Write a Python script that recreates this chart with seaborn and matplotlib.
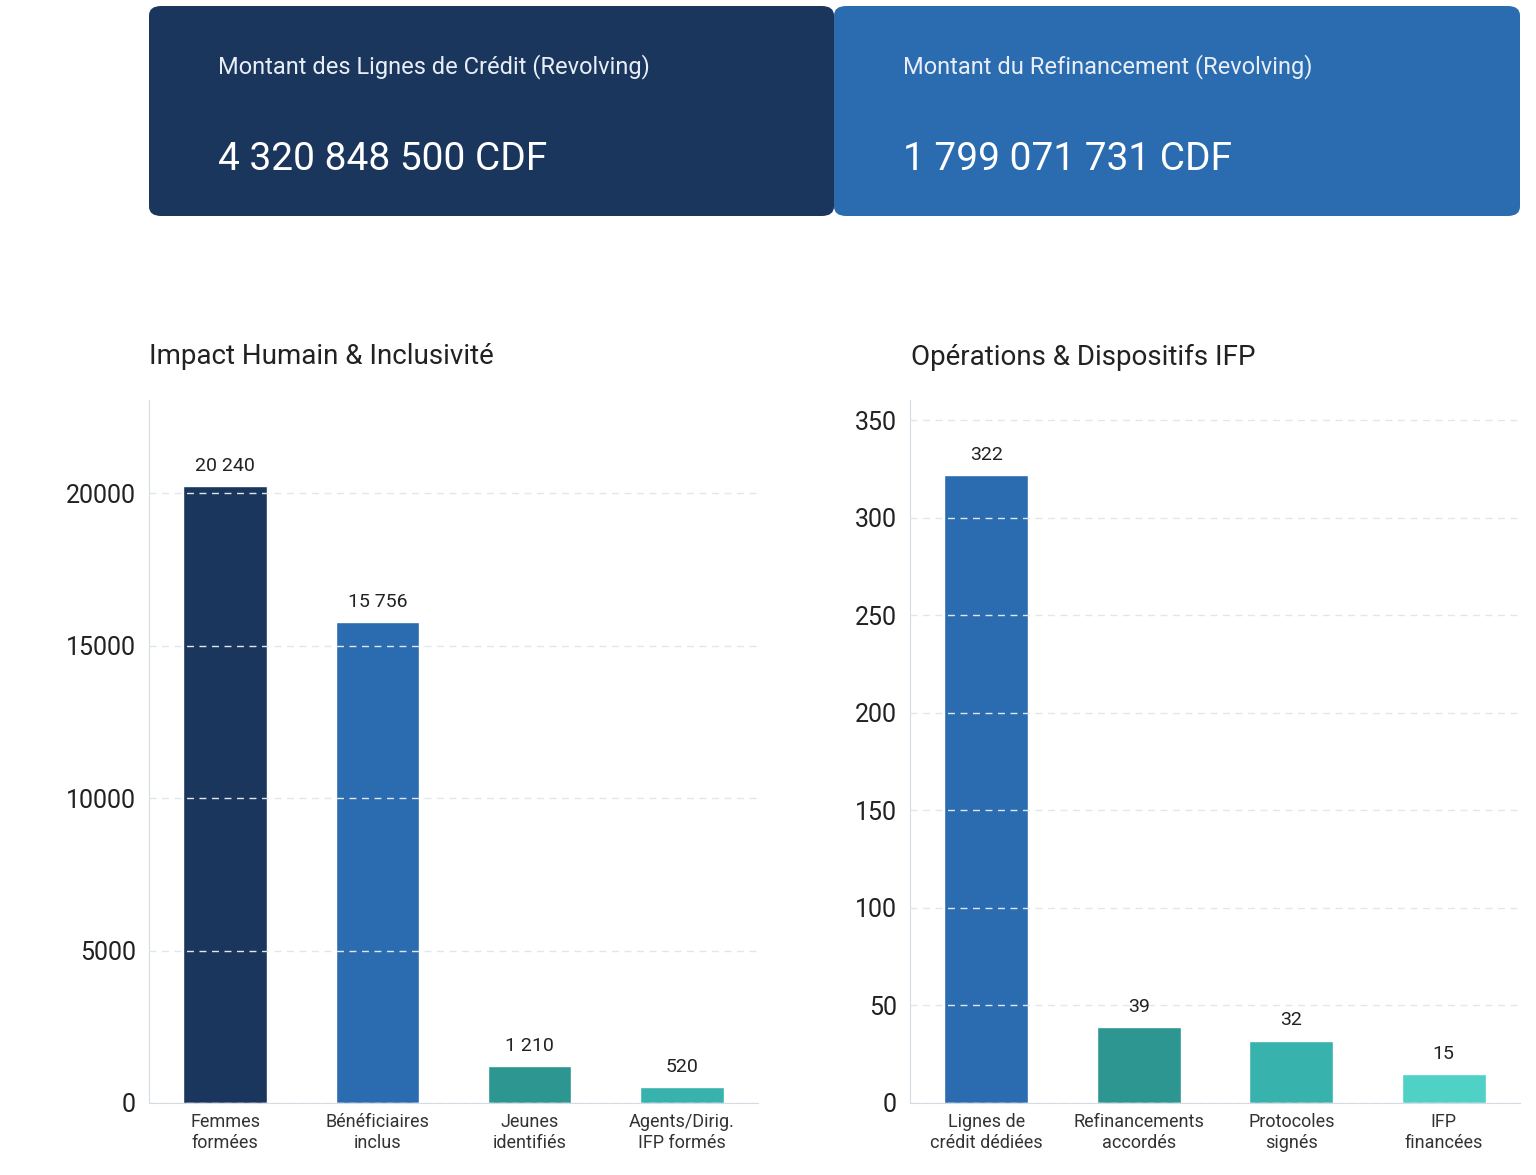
import matplotlib
matplotlib.use("Agg")
import matplotlib.pyplot as plt
import seaborn as sns
import pandas as pd
from matplotlib.patches import FancyBboxPatch

sns.set_style("white")
plt.rcParams["font.family"] = ["Roboto", "DejaVu Sans"]

# data
card_titles = ["Montant des Lignes de Crédit (Revolving)", "Montant du Refinancement (Revolving)"]
card_values = ["4 320 848 500 CDF", "1 799 071 731 CDF"]
card_colors = ["#1B365D", "#2B6CB0"]

human_labels = ["Femmes\nformées", "Bénéficiaires\ninclus", "Jeunes\nidentifiés", "Agents/Dirig.\nIFP formés"]
human_values = [20240, 15756, 1210, 520]
human_colors = ["#1B365D", "#2B6CB0", "#2E9690", "#38B2AC"]

ops_labels = ["Lignes de\ncrédit dédiées", "Refinancements\naccordés", "Protocoles\nsignés", "IFP\nfinancées"]
ops_values = [322, 39, 32, 15]
ops_colors = ["#2B6CB0", "#2E9690", "#38B2AC", "#4FD1C5"]

W, H = 1536, 1175
fig = plt.figure(figsize=(W / 100, H / 100), dpi=100)

def fx(px):
    return px / W

def fy(py):
    return 1 - py / H

# KPI cards
for i, (x0, x1) in enumerate([(149, 834), (834, 1520)]):
    box = FancyBboxPatch((fx(x0), fy(216)), fx(x1 - x0), (210) / H,
                         boxstyle="round,pad=0,rounding_size=0.008",
                         transform=fig.transFigure, facecolor=card_colors[i],
                         edgecolor="none")
    fig.patches.append(box)
    fig.text(fx(x0 + 69), fy(67), card_titles[i], color="#E8EEF6", fontsize=17, va="center")
    fig.text(fx(x0 + 69), fy(160), card_values[i], color="white", fontsize=28, va="center")

def fmt(v):
    return f"{v:,}".replace(",", " ")

def panel(rect, labels, values, colors, ylim, ticks, title, title_x):
    ax = fig.add_axes(rect)
    df = pd.DataFrame({"cat": labels, "val": values})
    sns.barplot(data=df, x="cat", y="val", hue="cat", palette=colors, legend=False,
                width=0.55, saturation=1, ax=ax)
    ax.set_ylim(*ylim)
    ax.set_yticks(ticks)
    ax.set_xlabel("")
    ax.set_ylabel("")
    ax.tick_params(axis="y", labelsize=18, length=6, color="#555555", labelcolor="#222222")
    ax.tick_params(axis="x", labelsize=13, length=5, color="#555555", labelcolor="#333333", pad=2)
    for s in ["top", "right"]:
        ax.spines[s].set_visible(False)
    for s in ["left", "bottom"]:
        ax.spines[s].set_color("#D5DBE3")
    ax.set_axisbelow(False)
    ax.yaxis.grid(True, linestyle=(0, (5, 4)), color="#E2E6EC", linewidth=1)
    for p, v in zip(ax.patches, values):
        ax.annotate(fmt(v), (p.get_x() + p.get_width() / 2, p.get_height()),
                    xytext=(0, 8), textcoords="offset points", ha="center", va="bottom",
                    fontsize=14, color="#222222")
    fig.text(fx(title_x), fy(357), title, fontsize=20, color="#222222", va="center")
    return ax

panel([fx(149), fy(1103), fx(758 - 149), (1103 - 400) / H], human_labels, human_values,
      human_colors, (0, 23050), [0, 5000, 10000, 15000, 20000], "Impact Humain & Inclusivité", 149)
panel([fx(910), fy(1103), fx(1520 - 910), (1103 - 400) / H], ops_labels, ops_values,
      ops_colors, (0, 360.5), [0, 50, 100, 150, 200, 250, 300, 350], "Opérations & Dispositifs IFP", 911)

fig.savefig("out.png", dpi=100)
